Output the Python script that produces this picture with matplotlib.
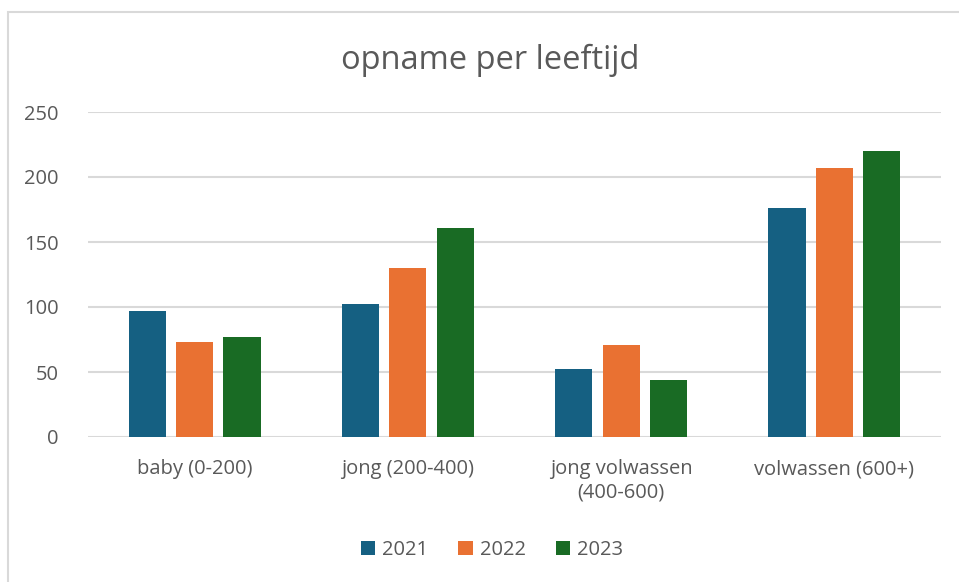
import matplotlib
matplotlib.use('Agg')
import numpy as np
import matplotlib.pyplot as plt
from matplotlib.patches import Rectangle

# data
categories = ['baby (0-200)', 'jong (200-400)', 'jong volwassen\n(400-600)', 'volwassen (600+)']
years = ['2021', '2022', '2023']
v2021 = [97, 102, 52, 176]
v2022 = [73, 130, 71, 207]
v2023 = [77, 161, 44, 220]
colours = ['#156082', '#E97132', '#196B24']

TXT = '#595959'
GRID = '#d9d9d9'
plt.rcParams['font.family'] = ['Open Sans', 'DejaVu Sans']

fig = plt.figure(figsize=(9.59, 5.82), dpi=100)
ax = fig.add_axes([88/959, 1-437/582, (941-88)/959, (437-112)/582])

x = np.arange(len(categories))
w = 0.174
step = 0.222
for j, (vals, lab, col) in enumerate(zip([v2021, v2022, v2023], years, colours)):
    ax.bar(x + (j-1)*step, vals, width=w, color=col, label=lab, zorder=3)

ax.set_xlim(-0.5, 3.5)
ax.set_ylim(0, 250)
ax.set_yticks(range(0, 251, 50))
ax.set_xticks(x)
ax.set_xticklabels(categories)
ax.grid(axis='y', color=GRID, lw=1.5, zorder=0)
for s in ax.spines.values():
    s.set_visible(False)
ax.tick_params(axis='both', length=0, colors=TXT, labelsize=14.5)
ax.tick_params(axis='y', pad=21)
ax.tick_params(axis='x', pad=16)

fig.text(490/959, 1-60/582, 'opname per leeftijd', ha='center', va='center',
         fontsize=23.5, color=TXT)

leg = fig.legend(loc='center', bbox_to_anchor=(492/959, 1-550/582), ncol=3,
                 frameon=False, fontsize=14.5, handlelength=0.7, handleheight=0.7,
                 handletextpad=0.35, columnspacing=1.5)
for t in leg.get_texts():
    t.set_color(TXT)

# chart border
fig.patches.append(Rectangle((8/959, -0.1), 1.2, 1.1 - 12/582, transform=fig.transFigure,
                             fill=False, edgecolor=GRID, lw=1.5))

fig.savefig('out.png', dpi=100)
